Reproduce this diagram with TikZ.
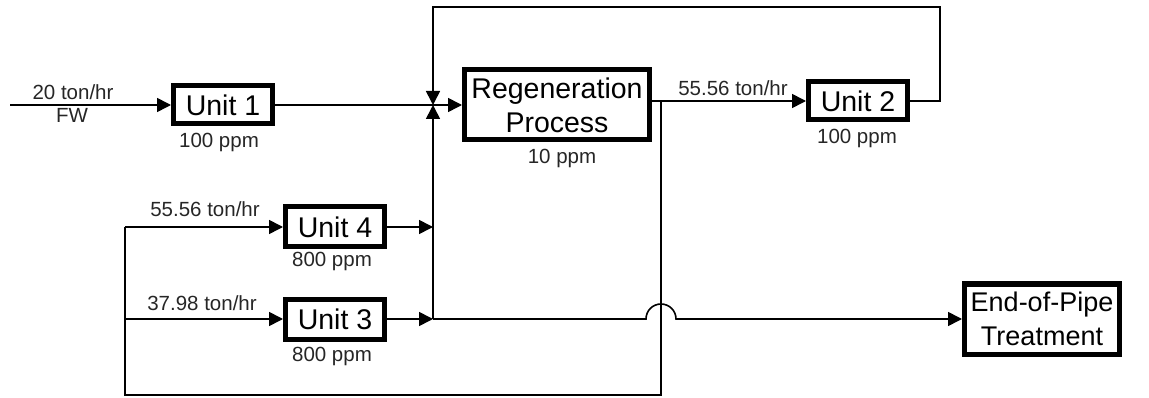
\documentclass[tikz,border=0pt]{standalone}
\usepackage{fontspec}
\setmainfont{Liberation Sans}
\usetikzlibrary{arrows.meta}
\begin{document}
\begin{tikzpicture}[x=1pt,y=-1pt,
  box/.style={draw, line width=5pt, outer sep=auto, minimum width=99pt, minimum height=38pt, inner sep=0pt, font=\fontsize{28.5}{34}\selectfont, align=center},
  lbl/.style={font=\fontsize{20.5}{24}\selectfont, anchor=base, inner sep=0pt, text=black!85},
  pipe/.style={line width=1.6pt},
  arr/.style={pipe, -{Triangle[length=14pt,width=14pt]}}
]
\useasboundingbox (0,0) rectangle (1149,398);
% boxes
\node[box] (u1) at (223,105) {Unit 1};
\node[box, minimum width=185pt, minimum height=70pt] (regen) at (557,105) {Regeneration\\Process};
\node[box] (u2) at (858,101) {Unit 2};
\node[box, minimum height=40pt] (u4) at (335,227) {Unit 4};
\node[box, minimum height=40pt] (u3) at (335,319) {Unit 3};
\node[box, minimum width=155pt, minimum height=70pt, font=\fontsize{27}{34}\selectfont] (eop) at (1042,319) {End-of-Pipe\\Treatment};
% coordinates
\coordinate (in1) at (10,105);
\coordinate (J) at (433,105);
\coordinate (tl) at (433,7);
\coordinate (tr) at (940,7);
\coordinate (s) at (661,101);
\coordinate (br) at (661,395);
\coordinate (bl) at (125,395);
\coordinate (l4) at (125,227);
\coordinate (l3) at (125,319);
\coordinate (m4) at (433,227);
\coordinate (m3) at (433,319);
\coordinate (h1) at (646,319);
% connectors
\draw[arr] (in1) -- (u1.west);
\draw[pipe] (u1.east) -- (J);
\draw[arr] (J) -- (regen.west |- J);
\draw[arr] (regen.east |- u2.west) -- (u2.west);
\draw[arr] (u2.east) -| (tr) -- (tl) -- (J);
\draw[pipe] (s) -- (br) -- (bl) -- (l4);
\draw[arr] (l4) -- (u4.west);
\draw[arr] (l3) -- (u3.west);
\draw[arr] (u4.east) -- (m4);
\draw[arr] (u3.east) -- (m3);
\draw[arr] (m3) -- (J);
\draw[arr] (m3) -- (h1) arc[start angle=180, end angle=360, radius=15] -- (eop.west);
% labels
\node[lbl] (f1) at (73,100) {20 ton/hr};
\node[lbl] (f2) at (72,123) {FW};
\node[lbl] (c1) at (219,148) {100 ppm};
\node[lbl] (cr) at (562,164) {10 ppm};
\node[lbl] (f3) at (733,96) {55.56 ton/hr};
\node[lbl] (c2) at (857,144) {100 ppm};
\node[lbl] (f4) at (205,217) {55.56 ton/hr};
\node[lbl] (c4) at (332,267) {800 ppm};
\node[lbl] (f5) at (202,310) {37.98 ton/hr};
\node[lbl] (c3) at (332,361) {800 ppm};
\end{tikzpicture}
\end{document}
